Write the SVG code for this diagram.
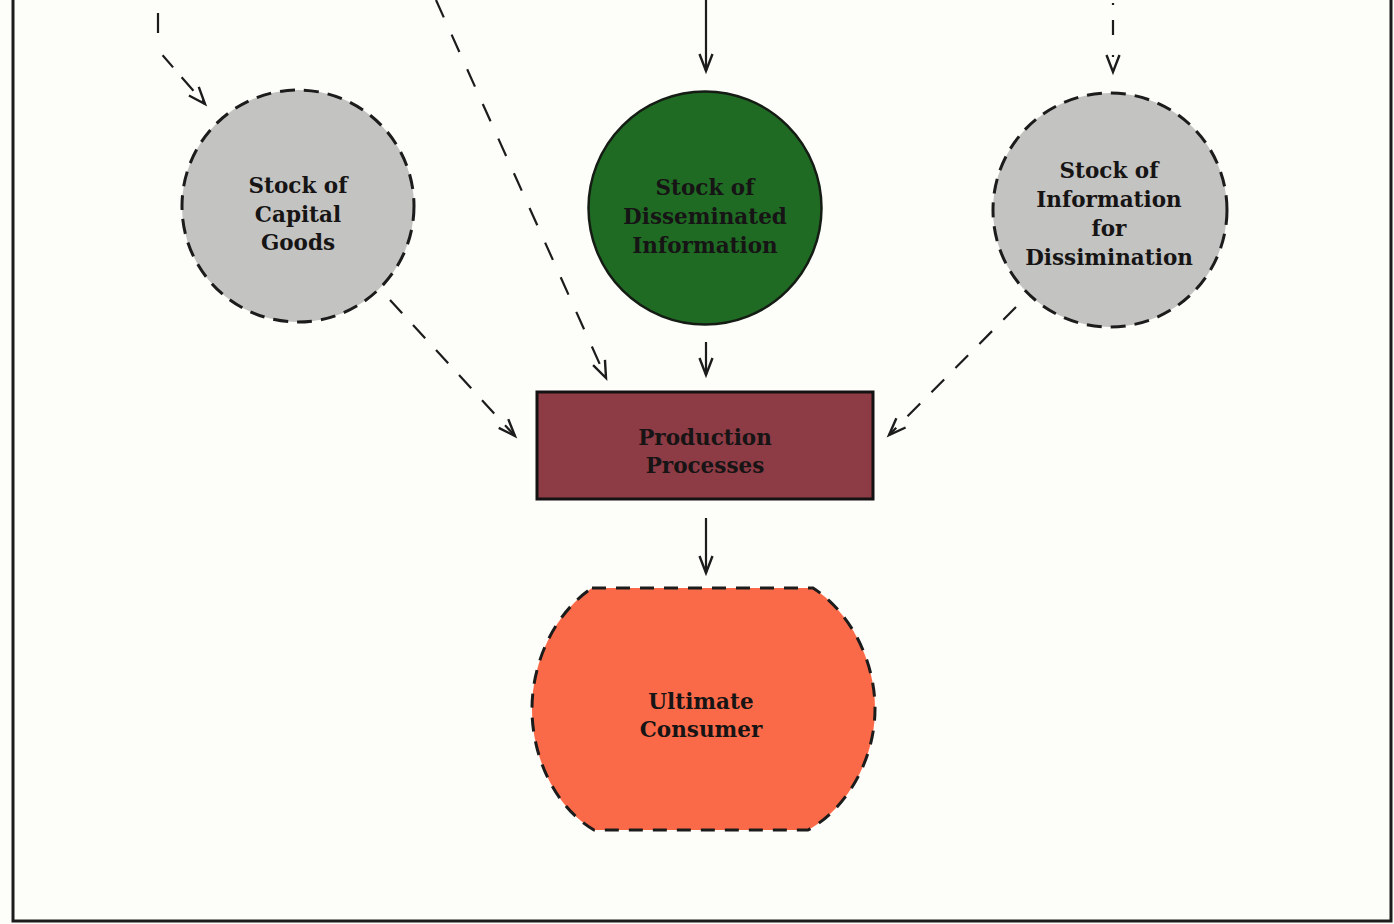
<svg xmlns="http://www.w3.org/2000/svg" width="1394" height="924" viewBox="0 0 1394 924">
  <style>
    .label { font-family: "DejaVu Serif", "Liberation Serif", serif; font-weight: bold; font-size: 21.5px; fill: #161414; text-anchor: middle; }
    .stock { fill: #c3c3c1; stroke: #1c1c1c; stroke-width: 3; stroke-dasharray: 15 9; }
    .flow { fill: none; stroke: #1c1c1c; stroke-width: 2.2; }
    .dashed { stroke-dasharray: 18 16; }
  </style>
  <defs>
    <marker id="arrow" markerUnits="userSpaceOnUse" markerWidth="24" markerHeight="20" viewBox="-20 -10 24 20" refX="0" refY="0" orient="auto">
      <path d="M-17,-6.5 L0,0 L-17,6.5" fill="none" stroke="#1c1c1c" stroke-width="2.4" stroke-linejoin="miter"/>
    </marker>
  </defs>

  <rect x="0" y="0" width="1394" height="924" fill="#fdfdfa"/>

  <!-- page frame -->
  <path d="M13,0 L13,921 L1391,921 L1391,0" fill="none" stroke="#1c1c1c" stroke-width="3"/>

  <!-- connectors -->
  <g id="connectors">
    <path class="flow" d="M158,13 L158,50 L205,104" stroke-dasharray="20 24 16 13 18 13" marker-end="url(#arrow)"/>
    <path class="flow" d="M436,0 L606,378" stroke-dasharray="19 19" marker-end="url(#arrow)"/>
    <path class="flow" d="M706,0 L706,71" marker-end="url(#arrow)"/>
    <path class="flow" d="M1113,3 L1113,72" stroke-dasharray="2 15 15 20" marker-end="url(#arrow)"/>
    <path class="flow dashed" d="M390,300 L515,436" marker-end="url(#arrow)"/>
    <path class="flow" d="M706,342 L706,375" marker-end="url(#arrow)"/>
    <path class="flow dashed" d="M1016,307 L889,435" marker-end="url(#arrow)"/>
    <path class="flow" d="M706,518 L706,573" marker-end="url(#arrow)"/>
  </g>

  <g id="capital-goods">
    <circle class="stock" cx="298" cy="206" r="116"/>
    <text class="label" x="298" y="193">Stock of</text>
    <text class="label" x="298" y="222">Capital</text>
    <text class="label" x="298" y="250">Goods</text>
  </g>

  <g id="disseminated-information">
    <circle cx="705" cy="208" r="116.5" fill="#1f6b24" stroke="#141c14" stroke-width="2.5"/>
    <text class="label" x="705" y="195">Stock of</text>
    <text class="label" x="705" y="224">Disseminated</text>
    <text class="label" x="705" y="253">Information</text>
  </g>

  <g id="information-for-dissemination">
    <circle class="stock" cx="1110" cy="210" r="117"/>
    <text class="label" x="1109" y="178">Stock of</text>
    <text class="label" x="1109" y="207">Information</text>
    <text class="label" x="1109" y="236">for</text>
    <text class="label" x="1109" y="265">Dissimination</text>
  </g>

  <g id="production-processes">
    <rect x="537" y="392" width="336" height="107" fill="#8d3b45" stroke="#141212" stroke-width="3"/>
    <text class="label" x="705" y="445">Production</text>
    <text class="label" x="705" y="473">Processes</text>
  </g>

  <g id="ultimate-consumer">
    <path d="M592,588 L813,588 C850,612 875,660 875,709 C875,758 848,808 808,830 L594,830 C556,808 532,758 532,709 C532,660 556,612 592,588 Z" fill="#fb6a48" stroke="#1c1c1c" stroke-width="3" stroke-dasharray="14 10"/>
    <text class="label" x="701" y="709">Ultimate</text>
    <text class="label" x="701" y="737">Consumer</text>
  </g>
</svg>
